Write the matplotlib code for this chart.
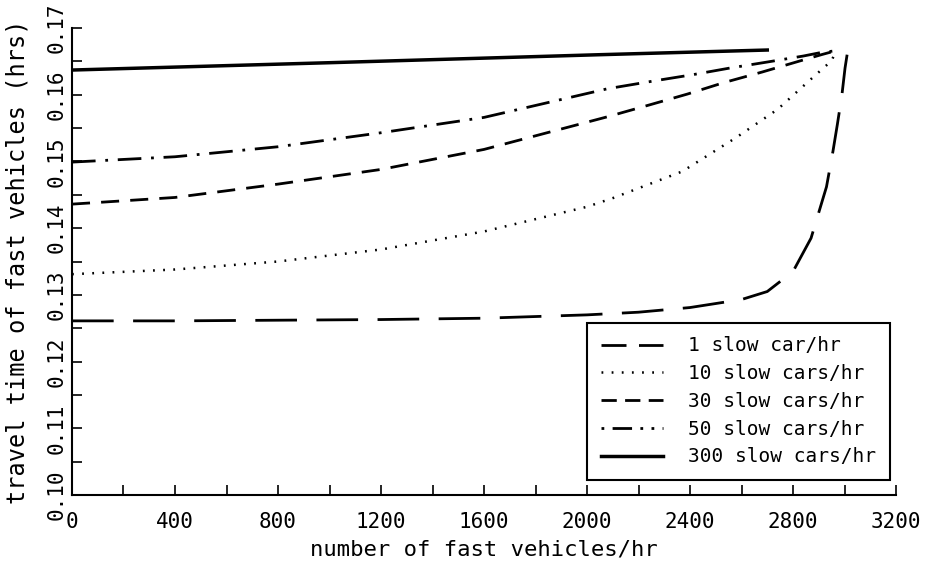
import matplotlib
matplotlib.use("Agg")
import matplotlib.pyplot as plt
from matplotlib.ticker import MultipleLocator
from matplotlib.lines import Line2D

plt.rcParams['font.family'] = ['DejaVu Sans Mono', 'DejaVu Sans']
plt.rcParams['lines.scale_dashes'] = False

# ---- data ----
labels = ["1 slow car/hr", "10 slow cars/hr", "30 slow cars/hr",
          "50 slow cars/hr", "300 slow cars/hr"]

x1 = [0, 400, 800, 1200, 1600, 2000, 2200, 2400, 2600, 2700, 2800, 2870,
      2930, 2955, 2972, 2990, 3002, 3010]
y1 = [0.1261, 0.1261, 0.1262, 0.1263, 0.1265, 0.1270, 0.1274, 0.1281, 0.1293,
      0.1305, 0.1335, 0.1385, 0.1462, 0.1515, 0.1555, 0.1600, 0.1640, 0.1660]

x10 = [0, 400, 800, 1200, 1600, 2000, 2100, 2370, 2580, 2740, 2880, 2950, 2967]
y10 = [0.1331, 0.1338, 0.1350, 0.1368, 0.1395, 0.1432, 0.1445, 0.1485,
       0.1536, 0.1578, 0.1627, 0.1651, 0.1666]

x30 = [0, 400, 800, 1200, 1600, 2080, 2245, 2390, 2530, 2680, 2830, 2910, 2967]
y30 = [0.1436, 0.1446, 0.1466, 0.1488, 0.1518, 0.1567, 0.1585, 0.1601,
       0.1618, 0.1634, 0.1651, 0.1660, 0.1666]

x50 = [0, 400, 800, 1200, 1600, 2080, 2265, 2410, 2555, 2700, 2840, 2905, 2967]
y50 = [0.1499, 0.1507, 0.1522, 0.1543, 0.1566, 0.1609, 0.1621, 0.1630,
       0.1640, 0.1649, 0.1658, 0.1663, 0.1666]

x300 = [0, 1000, 2050, 2700]
y300 = [0.1637, 0.1648, 0.1660, 0.1667]

xticks = [0, 400, 800, 1200, 1600, 2000, 2400, 2800, 3200]
yticks = [0.10, 0.11, 0.12, 0.13, 0.14, 0.15, 0.16, 0.17]

# ---- figure ----
fig = plt.figure(figsize=(9.29, 5.67), dpi=100)
ax = fig.add_axes([0.0775, 0.127, 0.887, 0.8236])

ax.plot(x1, y1, color='black', lw=2.0, dashes=(30, 14))
ax.plot(x10, y10, color='black', lw=1.8, dashes=(1.3, 6))
ax.plot(x30, y30, color='black', lw=2.0, dashes=(13, 8))
ax.plot(x50, y50, color='black', lw=2.0, dashes=(17, 7, 2, 7))
ax.plot(x300, y300, color='black', lw=2.5)

handles = [
    Line2D([], [], color='black', lw=2.0, dashes=(18, 9)),
    Line2D([], [], color='black', lw=1.8, dashes=(1.3, 6)),
    Line2D([], [], color='black', lw=2.0, dashes=(11, 6)),
    Line2D([], [], color='black', lw=2.0, dashes=(2, 6, 14, 6, 2, 6)),
    Line2D([], [], color='black', lw=2.5),
]

ax.set_xlim(0, 3200)
ax.set_ylim(0.10, 0.17)
ax.set_xticks(xticks)
ax.set_xticklabels([str(v) for v in xticks])
ax.set_yticks(yticks)
ax.set_yticklabels([f"{v:.2f}" for v in yticks], rotation=90, va='center')
ax.xaxis.set_minor_locator(MultipleLocator(200))
ax.yaxis.set_minor_locator(MultipleLocator(0.005))
ax.tick_params(which='both', direction='in', length=7, width=1.2, labelsize=15)
ax.tick_params(axis='x', pad=12)
ax.tick_params(axis='y', pad=4)

for s in ['top', 'right']:
    ax.spines[s].set_visible(False)
for s in ['left', 'bottom']:
    ax.spines[s].set_linewidth(1.5)

ax.set_xlabel("number of fast vehicles/hr", fontsize=16, labelpad=6)
ax.set_ylabel("travel time of fast vehicles (hrs)", fontsize=17, labelpad=12)

leg = ax.legend(handles, labels, loc='lower right',
                bbox_to_anchor=(0.9927, 0.032),
                borderaxespad=0, fontsize=14, handlelength=3.2,
                labelspacing=0.45, borderpad=0.7, handletextpad=1.3,
                fancybox=False, framealpha=1, edgecolor='black')
leg.get_frame().set_linewidth(1.5)

fig.savefig("out.png", dpi=100)
